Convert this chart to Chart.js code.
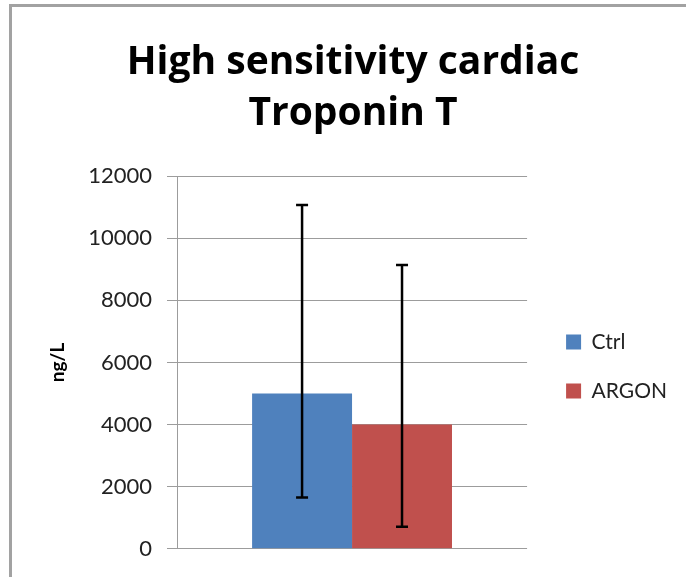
<!DOCTYPE html>
<html>
<head>
<meta charset="utf-8">
<script src="https://cdn.jsdelivr.net/npm/chart.js@4/dist/chart.umd.min.js"></script>
<style>
    body { margin: 0; background: #fff; }
    #wrap { position: relative; width: 686px; height: 577px; overflow: hidden; }
    #frame {
        position: absolute; left: 9px; top: 4px; width: 800px; height: 700px;
        border-left: 3px solid #a2a2a2; border-top: 3px solid #a2a2a2;
    }
    #chart { position: absolute; left: 0; top: 0; }
</style>
</head>
<body>
<div id="wrap">
    <div id="frame"></div>
    <canvas id="chart" width="686" height="577"></canvas>
</div>
<script>
// Chart data
const categories = [''];
const seriesNames = ['Ctrl', 'ARGON'];
const ctrlValues = [5000];
const argonValues = [4000];
// error bar ends (lower, upper)
const ctrlErrLow = [1650];
const ctrlErrHigh = [11070];
const argonErrLow = [710];
const argonErrHigh = [9140];
const yMin = 0;
const yMax = 12000;
const yStep = 2000;

const errLows = [ctrlErrLow, argonErrLow];
const errHighs = [ctrlErrHigh, argonErrHigh];

// Draw error bars using the y scale
const errorBars = {
    id: 'errorBars',
    afterDatasetsDraw(chart) {
        const ctx = chart.ctx;
        const yScale = chart.scales.y;
        ctx.save();
        ctx.strokeStyle = '#000';
        ctx.lineWidth = 2.5;
        chart.data.datasets.forEach((ds, i) => {
            const meta = chart.getDatasetMeta(i);
            meta.data.forEach((bar, j) => {
                const x = bar.x;
                const top = yScale.getPixelForValue(errHighs[i][j]);
                const bottom = yScale.getPixelForValue(errLows[i][j]);
                ctx.beginPath();
                ctx.moveTo(x, top);
                ctx.lineTo(x, bottom);
                ctx.moveTo(x - 6, top);
                ctx.lineTo(x + 6, top);
                ctx.moveTo(x - 6, bottom);
                ctx.lineTo(x + 6, bottom);
                ctx.stroke();
            });
        });
        ctx.restore();
    }
};

// Nudge legend and title a little (Excel centres them differently)
const nudgeBoxes = {
    id: 'nudgeBoxes',
    afterLayout(chart) {
        if (chart.legend) {
            chart.legend.left += 11;
            chart.legend.right += 11;
            chart.legend.top += 4;
            chart.legend.bottom += 4;
        }
        if (chart.titleBlock) {
            chart.titleBlock.left += 10;
            chart.titleBlock.right += 10;
        }
    }
};

new Chart(document.getElementById('chart'), {
    type: 'bar',
    data: {
        labels: categories,
        datasets: [{
            label: seriesNames[0],
            data: ctrlValues,
            backgroundColor: '#4f81bd'
        }, {
            label: seriesNames[1],
            data: argonValues,
            backgroundColor: '#c0504d'
        }]
    },
    options: {
        responsive: false,
        animation: false,
        layout: { padding: { left: 20, right: 20, top: 0, bottom: 25 } },
        datasets: {
            bar: { categoryPercentage: 0.571, barPercentage: 1 }
        },
        plugins: {
            title: {
                display: true,
                text: ['High sensitivity cardiac', 'Troponin T'],
                color: '#000',
                font: { family: 'Open Sans', size: 39, weight: 'bold', lineHeight: 1.31 },
                padding: { top: 37, bottom: 37 }
            },
            legend: {
                position: 'right',
                fullSize: false,
                labels: {
                    color: '#222',
                    font: { family: 'Lato', size: 21 },
                    boxWidth: 15,
                    boxHeight: 15,
                    padding: 28
                }
            },
            tooltip: { enabled: false }
        },
        scales: {
            x: {
                display: false
            },
            y: {
                min: yMin,
                max: yMax,
                afterFit: (scale) => { scale.width = 157; },
                ticks: {
                    stepSize: yStep,
                    color: '#222',
                    padding: 15,
                    font: { family: 'Lato', size: 22 },
                    callback: (v) => String(v)
                },
                grid: {
                    color: '#9c9c9c',
                    tickLength: 10,
                    tickColor: '#9c9c9c'
                },
                border: { color: '#9c9c9c' },
                title: {
                    display: true,
                    text: 'ng/L',
                    color: '#000',
                    font: { family: 'Lato', size: 19, weight: 'bold' },
                    padding: { top: 26, bottom: 14 }
                }
            }
        }
    },
    plugins: [errorBars, nudgeBoxes]
});
</script>
</body>
</html>
